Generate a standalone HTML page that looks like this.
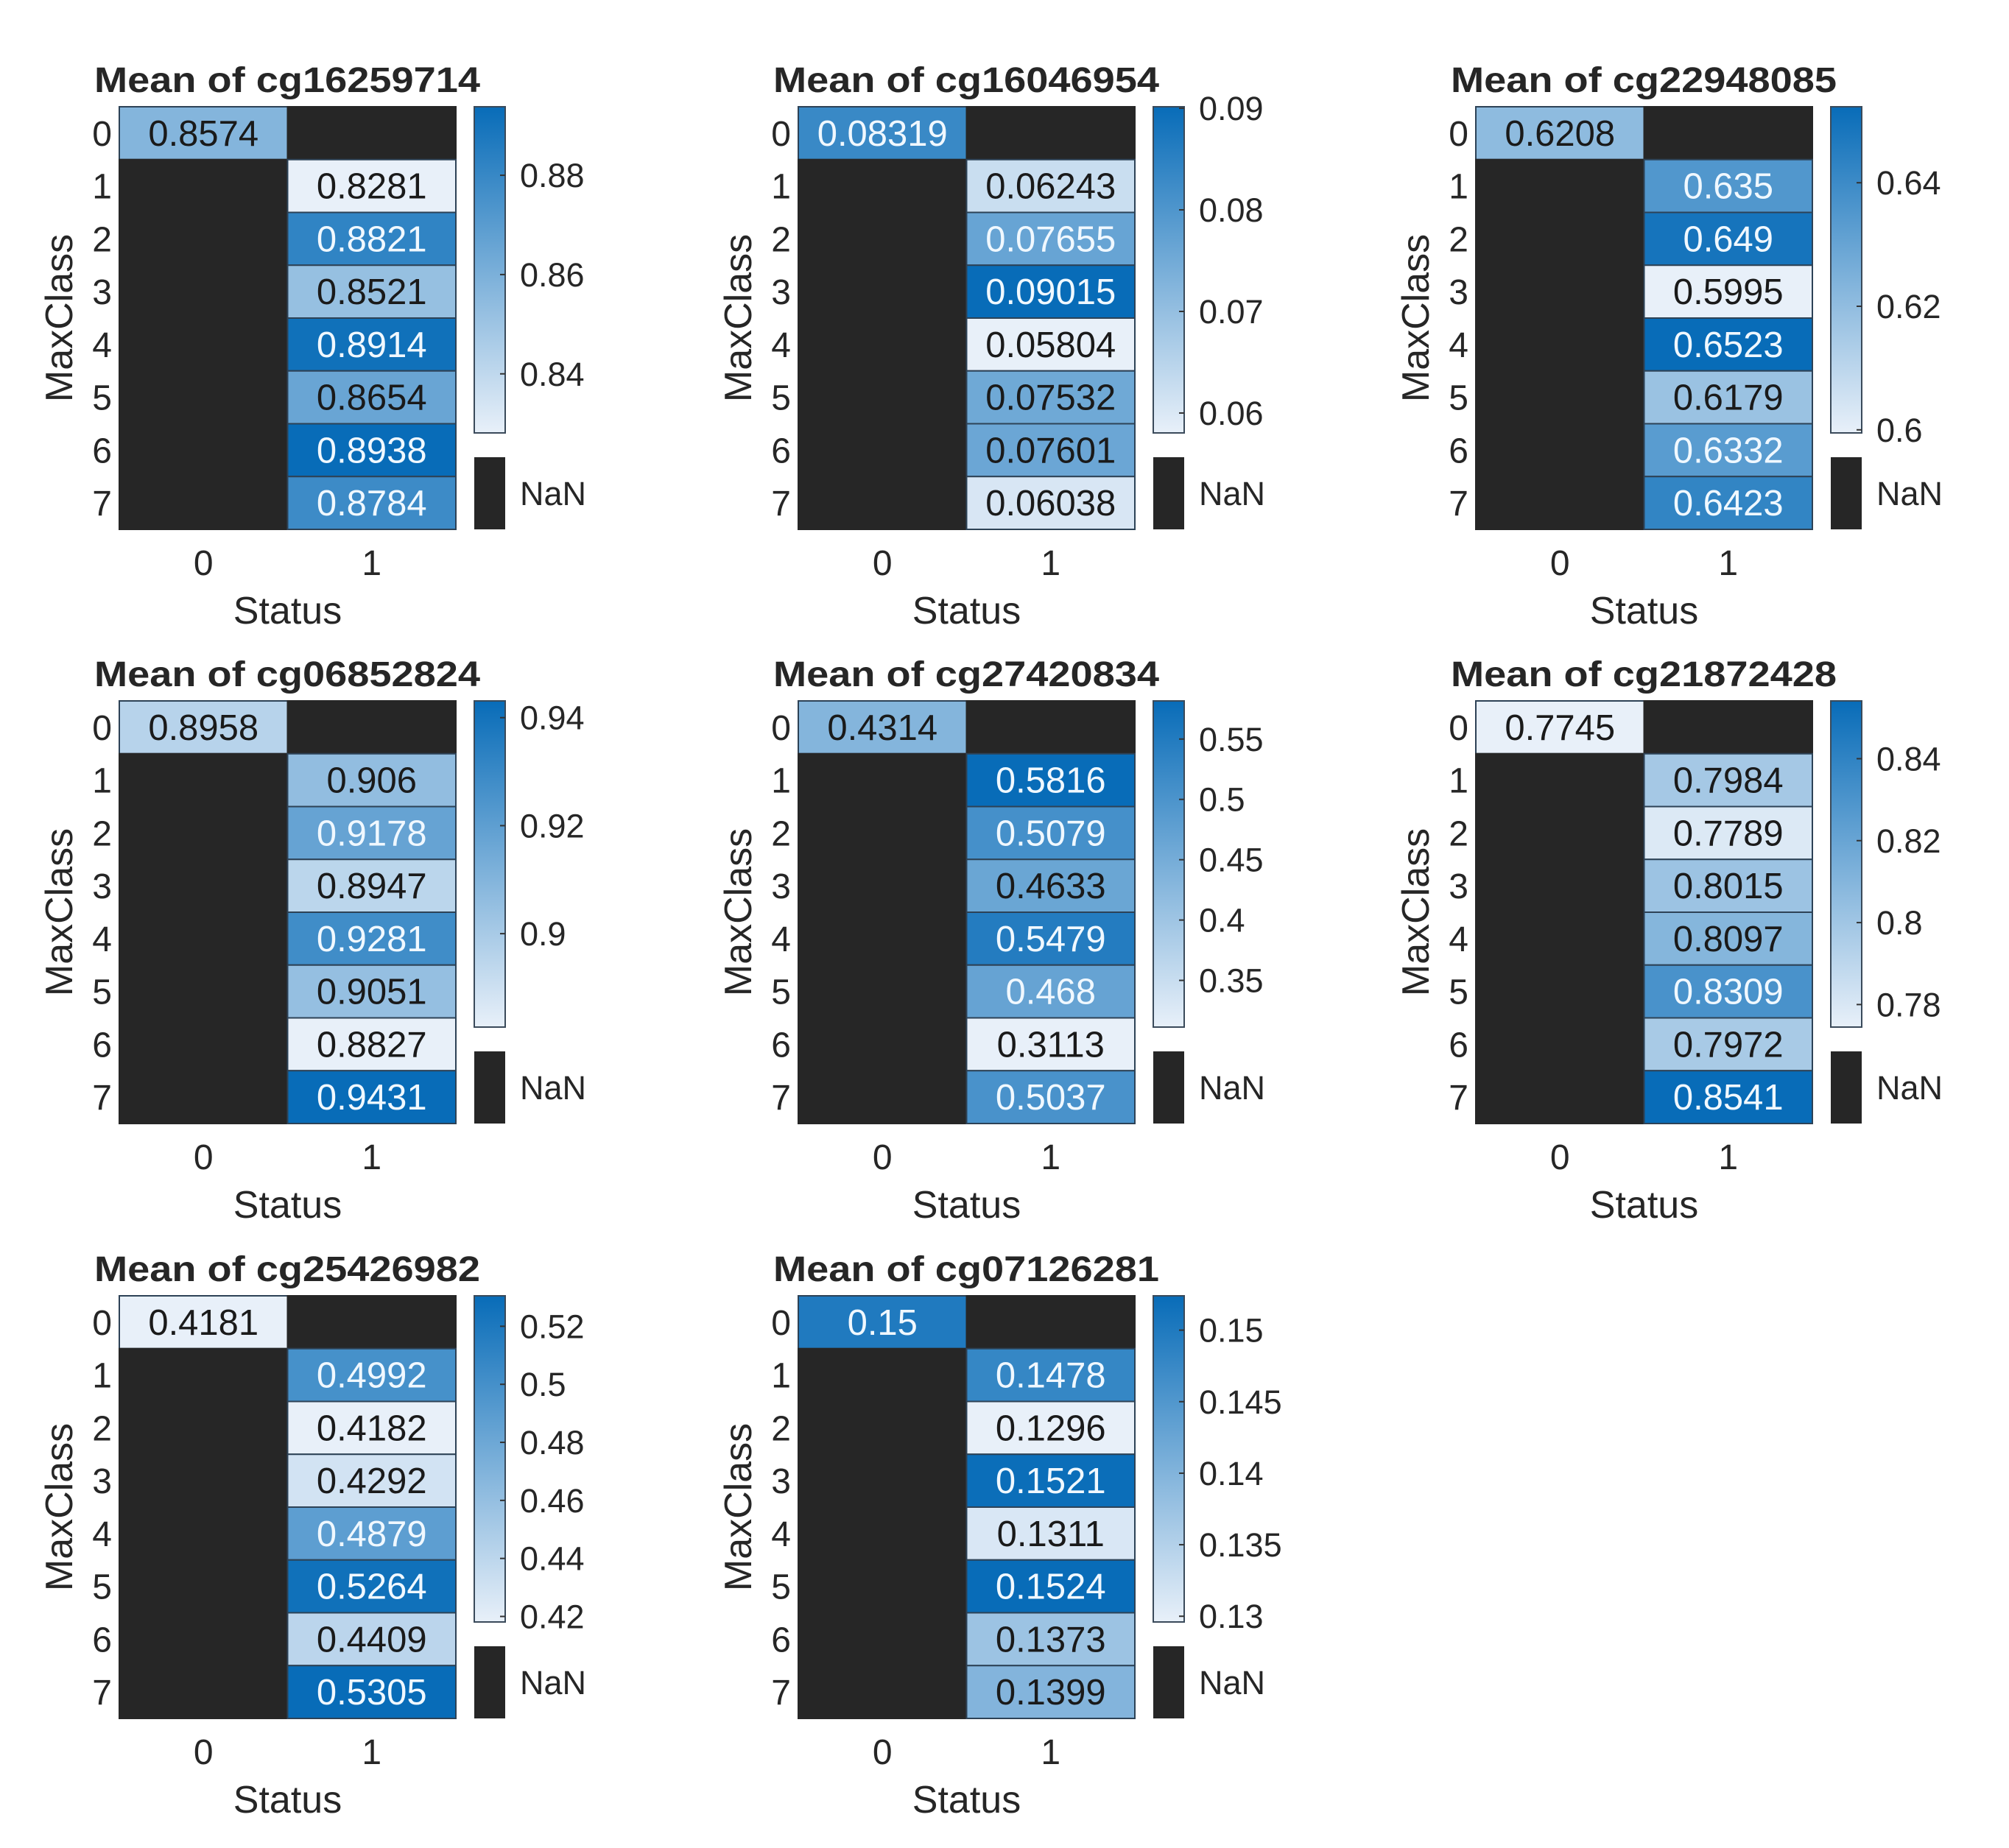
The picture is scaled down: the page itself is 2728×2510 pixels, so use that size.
<!DOCTYPE html>
<html><head><meta charset="utf-8">
<style>
html,body{margin:0;padding:0;background:#fff;}
svg{display:block;font-family:"Liberation Sans",Arial,sans-serif;}
</style></head>
<body>
<svg id="fig" width="2728" height="2510" viewBox="0 0 2728 2510" xmlns="http://www.w3.org/2000/svg"></svg>
<script>
// ---- data ----
const probes = ["cg16259714","cg16046954","cg22948085","cg06852824","cg27420834","cg21872428","cg25426982","cg07126281"];
const status0Values = [0.8574, 0.08319, 0.6208, 0.8958, 0.4314, 0.7745, 0.4181, 0.15];
const status1Values = [
  [0.8281,0.8821,0.8521,0.8914,0.8654,0.8938,0.8784],
  [0.06243,0.07655,0.09015,0.05804,0.07532,0.07601,0.06038],
  [0.635,0.649,0.5995,0.6523,0.6179,0.6332,0.6423],
  [0.906,0.9178,0.8947,0.9281,0.9051,0.8827,0.9431],
  [0.5816,0.5079,0.4633,0.5479,0.468,0.3113,0.5037],
  [0.7984,0.7789,0.8015,0.8097,0.8309,0.7972,0.8541],
  [0.4992,0.4182,0.4292,0.4879,0.5264,0.4409,0.5305],
  [0.1478,0.1296,0.1521,0.1311,0.1524,0.1373,0.1399]
];
const colorbarTicks = [
  [0.84,0.86,0.88],
  [0.06,0.07,0.08,0.09],
  [0.6,0.62,0.64],
  [0.9,0.92,0.94],
  [0.35,0.4,0.45,0.5,0.55],
  [0.78,0.8,0.82,0.84],
  [0.42,0.44,0.46,0.48,0.5,0.52],
  [0.13,0.135,0.14,0.145,0.15]
];
const maxClassLabels = ["0","1","2","3","4","5","6","7"];
const statusLabels = ["0","1"];

// ---- drawing ----
const NS="http://www.w3.org/2000/svg";
const svg=document.getElementById('fig');
function mk(tag,attrs,parent,text){const e=document.createElementNS(NS,tag);for(const k in attrs)e.setAttribute(k,attrs[k]);if(text!==undefined)e.textContent=text;(parent||svg).appendChild(e);return e;}
const LIGHT=[232,240,249], DARK=[8,108,184];
function col(t){t=Math.max(0,Math.min(1,t));return 'rgb('+LIGHT.map((l,i)=>Math.round(l+(DARK[i]-l)*t)).join(',')+')';}
const defs=mk('defs',{});
const grad=mk('linearGradient',{id:'cbgrad',x1:0,y1:1,x2:0,y2:0},defs);
mk('stop',{offset:'0','stop-color':col(0)},grad);
mk('stop',{offset:'1','stop-color':col(1)},grad);

const W=457,H=574,cw=W/2,ch=H/8;
const origins=[[162,145],[1084,145],[2004,145],[162,952],[1084,952],[2004,952],[162,1760],[1084,1760]];

probes.forEach((p,k)=>{
  const [ox,oy]=origins[k];
  const g=mk('g',{},svg);
  
  
  const vals=[status0Values[k]].concat(status1Values[k]);
  const mn=Math.min(...vals), mx=Math.max(...vals);
  const tOf=v=>(v-mn)/(mx-mn);
  const tt=mk('text',{x:ox-34,y:oy-20,'font-size':48,'font-weight':'bold',fill:'#262626',textLength:524,lengthAdjust:'spacingAndGlyphs'},g,'Mean of '+p);
  
  
  for(let r=0;r<8;r++){
    for(let c=0;c<2;c++){
      let v=null;
      if(r===0&&c===0)v=status0Values[k];
      if(r>0&&c===1)v=status1Values[k][r-1];
      const x=ox+c*cw,y=oy+r*ch;
      const rect=mk('rect',{x:x,y:y,width:cw,height:ch,fill:v===null?'#262626':col(tOf(v)),stroke:v===null?'#262626':'#2d4256','stroke-width':2},g);
      
      
      if(v!==null){
        const lab=mk('text',{x:x+cw/2,y:y+ch/2+17,'text-anchor':'middle','font-size':49,fill:tOf(v)>0.575?'#f0f8ff':'#1a1a1a'},g,String(v));
        
        
      }
    }
  }
  maxClassLabels.forEach((l,r)=>{
    const t=mk('text',{x:ox-10,y:oy+r*ch+ch/2+17,'text-anchor':'end','font-size':48,fill:'#262626'},g,l);
    
    
  });
  statusLabels.forEach((l,c)=>{
    const t=mk('text',{x:ox+c*cw+cw/2,y:oy+H+62,'text-anchor':'middle','font-size':48,fill:'#262626'},g,l);
    
    
  });
  const yl=mk('text',{x:0,y:0,'text-anchor':'middle','font-size':52,fill:'#262626',transform:'translate('+(ox-64)+','+(oy+H/2)+') rotate(-90)'},g,'MaxClass');
  
  
  const xl=mk('text',{x:ox+W/2,y:oy+H+128,'text-anchor':'middle','font-size':52,fill:'#262626'},g,'Status');
  
  
  const cx=ox+482,cbw=42,cbh=443;
  const cb=mk('rect',{x:cx,y:oy,width:cbw,height:cbh,fill:'url(#cbgrad)',stroke:'#3a4a5a','stroke-width':2},g);
  
  
  colorbarTicks[k].forEach(v=>{
    const y=oy+(mx-v)/(mx-mn)*cbh;
    mk('line',{x1:cx+cbw-7,x2:cx+cbw,y1:y,y2:y,stroke:'#333','stroke-width':2},g);
    const t=mk('text',{x:cx+62,y:y+16,'font-size':45,fill:'#262626'},g,String(v));
    
    
  });
  const nb=mk('rect',{x:cx,y:oy+476,width:cbw,height:98,fill:'#262626'},g);
  
  
  const nt=mk('text',{x:cx+62,y:oy+541,'font-size':45,fill:'#262626'},g,'NaN');
  
  
});
</script>
</body></html>
